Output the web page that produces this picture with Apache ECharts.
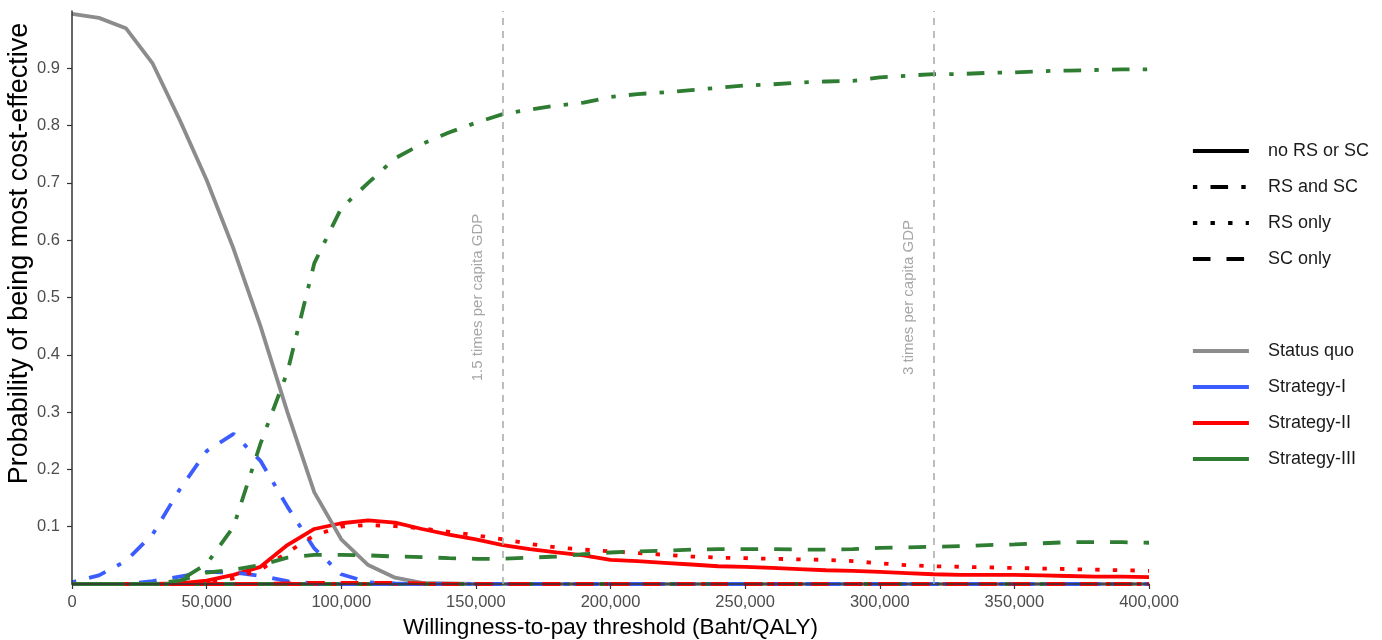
<!DOCTYPE html>
<html>
<head>
<meta charset="utf-8">
<script src="https://cdn.jsdelivr.net/npm/echarts@6/dist/echarts.min.js"></script>
<style>html,body{margin:0;padding:0;background:#fff;}#chart{width:1382px;height:640px;}</style>
</head>
<body>
<div id="chart"></div>
<script>
// ---- data ----
const wtp = [0,10000,20000,30000,40000,50000,60000,70000,80000,90000,100000,110000,120000,130000,140000,150000,160000,170000,180000,190000,200000,210000,220000,230000,240000,250000,260000,270000,280000,290000,300000,310000,320000,330000,340000,350000,360000,370000,380000,390000,400000];
const xTickLabels = ['0','50,000','100,000','150,000','200,000','250,000','300,000','350,000','400,000'];
const yTickValues = [0.1,0.2,0.3,0.4,0.5,0.6,0.7,0.8,0.9];
const gdpLines = [160000, 320000];
const gdpLabels = ['1.5 times per capita GDP', '3 times per capita GDP'];
const strategyNames = ['Status quo','Strategy-I','Strategy-II','Strategy-III'];
const typeNames = ['no RS or SC','RS and SC','RS only','SC only'];

const statusQuo = [0.995,0.988,0.970,0.908,0.810,0.705,0.585,0.450,0.300,0.160,0.078,0.033,0.011,0.002,0.001,0,0,0,0,0,0,0,0,0,0,0,0,0,0,0,0,0,0,0,0,0,0,0,0,0,0];

const s1None  = [0,0,0,0,0,0,0,0,0,0,0,0,0,0,0,0,0,0,0,0,0,0,0,0,0,0,0,0,0,0,0,0,0,0,0,0,0,0,0,0,0];
const s1RsSc  = [0.003,0.015,0.040,0.087,0.165,0.232,0.262,0.215,0.135,0.062,0.017,0.003,0.001,0,0,0,0,0,0,0,0,0,0,0,0,0,0,0,0,0,0,0,0,0,0,0,0,0,0,0,0];
const s1Rs    = [0,0,0,0,0,0,0,0,0,0,0,0,0,0,0,0,0,0,0,0,0,0,0,0,0,0,0,0,0,0,0,0,0,0,0,0,0,0,0,0,0];
const s1Sc    = [0,0,0,0.005,0.013,0.021,0.020,0.014,0.005,0.001,0,0,0,0,0,0,0,0,0,0,0,0,0,0,0,0,0,0,0,0,0,0,0,0,0,0,0,0,0,0,0];

const s2None  = [0,0,0,0,0.001,0.006,0.016,0.030,0.068,0.096,0.106,0.111,0.107,0.096,0.086,0.078,0.068,0.061,0.055,0.050,0.042,0.040,0.037,0.034,0.031,0.030,0.028,0.026,0.024,0.023,0.021,0.019,0.017,0.016,0.016,0.016,0.015,0.014,0.013,0.013,0.012];
const s2RsSc  = [0,0,0,0,0,0,0,0,0,0,0,0,0,0,0,0,0,0,0,0,0,0,0,0,0,0,0,0,0,0,0,0,0,0,0,0,0,0,0,0,0];
const s2Rs    = [0,0,0,0,0,0.003,0.010,0.025,0.055,0.085,0.100,0.103,0.101,0.097,0.091,0.085,0.078,0.070,0.064,0.060,0.057,0.054,0.051,0.048,0.046,0.045,0.044,0.043,0.042,0.040,0.036,0.033,0.031,0.030,0.029,0.028,0.027,0.026,0.025,0.024,0.023];
const s2Sc    = [0,0,0,0,0,0,0,0,0.001,0.002,0.002,0.002,0.002,0.001,0,0,0,0,0,0,0,0,0,0,0,0,0,0,0,0,0,0,0,0,0,0,0,0,0,0,0];

const s3None  = [0,0,0,0,0,0,0,0,0,0,0,0,0,0,0,0,0,0,0,0,0,0,0,0,0,0,0,0,0,0,0,0,0,0,0,0,0,0,0,0,0];
const s3RsSc  = [0,0,0,0,0.006,0.035,0.100,0.245,0.370,0.560,0.656,0.700,0.743,0.768,0.788,0.805,0.820,0.828,0.835,0.840,0.850,0.855,0.858,0.862,0.866,0.870,0.872,0.875,0.877,0.878,0.884,0.887,0.890,0.890,0.892,0.893,0.895,0.896,0.897,0.898,0.898];
const s3Rs    = [0,0,0,0,0,0,0,0,0,0,0,0,0,0,0,0,0,0,0,0,0,0,0,0,0,0,0,0,0,0,0,0,0,0,0,0,0,0,0,0,0];
const s3Sc    = [0,0,0,0,0.006,0.020,0.025,0.033,0.046,0.051,0.051,0.050,0.048,0.047,0.045,0.044,0.044,0.046,0.048,0.052,0.055,0.057,0.058,0.060,0.061,0.061,0.061,0.060,0.060,0.061,0.063,0.064,0.065,0.066,0.068,0.069,0.071,0.073,0.073,0.073,0.072];

// ---- styles ----
const colors = {'Status quo':'#8c8c8c','Strategy-I':'#3b5cff','Strategy-II':'#ff0000','Strategy-III':'#2e7d32'};
const dash = {'no RS or SC':'solid','RS and SC':[4.4,13.2,17.6,13.2],'RS only':[4.4,13.2],'SC only':[17.6,16]};
const LW = 3.8;
const FONT = 'Liberation Sans, Arial, Helvetica, sans-serif';

function pairs(arr){ return wtp.map((x,i)=>[x,arr[i]]); }
function mkSeries(name, type, arr){
  return {name:name, type:'line', data:pairs(arr), symbol:'none', showSymbol:false,
    lineStyle:{color:colors[name], width:LW, type:dash[type]}, itemStyle:{color:colors[name]},
    silent:true, z:2};
}

const series = [
  mkSeries('Strategy-I','no RS or SC',s1None),
  mkSeries('Strategy-II','no RS or SC',s2None),
  mkSeries('Strategy-III','no RS or SC',s3None),
  mkSeries('Status quo','no RS or SC',statusQuo),
  mkSeries('Strategy-I','RS only',s1Rs),
  mkSeries('Strategy-II','RS and SC',s2RsSc),
  mkSeries('Strategy-III','RS only',s3Rs),
  mkSeries('Strategy-I','RS and SC',s1RsSc),
  mkSeries('Strategy-I','SC only',s1Sc),
  mkSeries('Strategy-II','RS only',s2Rs),
  mkSeries('Strategy-II','SC only',s2Sc),
  mkSeries('Strategy-III','RS and SC',s3RsSc),
  mkSeries('Strategy-III','SC only',s3Sc)
];
// legend-only series for linetypes
typeNames.forEach(t=>{
  series.push({name:t, type:'line', data:[], symbol:'none',
    lineStyle:{color:'#000', width:LW, type:dash[t]}, itemStyle:{color:'#000'}});
});
// reference lines
series.push({
  name:'ref', type:'line', data:[], symbol:'none', silent:true,
  markLine:{
    silent:true, symbol:['none','none'], animation:false,
    lineStyle:{color:'#a8a8a8', width:1.5, type:[7,6]},
    label:{show:true, position:'insideMiddleTop', distance:17, color:'#a6a6a6', fontSize:15, fontFamily:FONT,
      formatter:p=>gdpLabels[gdpLines.indexOf(p.value)]},
    data: gdpLines.map(v=>({xAxis:v}))
  }
});

function legendOf(top, names, lineType){
  const ls = {width:LW};
  if (lineType) ls.type = lineType;
  return {
    orient:'vertical', left:1191, top:top, padding:0, itemWidth:56, itemHeight:14, itemGap:18,
    selectedMode:false, data:names,
    lineStyle:ls, itemStyle:{opacity:0},
    textStyle:{fontSize:18, color:'#1a1a1a', fontFamily:FONT, padding:[0,0,0,14]}
  };
}

const option = {
  animation:false,
  backgroundColor:'#fff',
  grid:{left:72, right:233, top:11, bottom:56, containLabel:false, outerBoundsMode:'none'},
  legend:[ legendOf(142, typeNames, null), legendOf(342, strategyNames, 'solid') ],
  xAxis:{
    type:'value', min:0, max:400000, interval:50000, z:3,
    name:'Willingness-to-pay threshold (Baht/QALY)', nameLocation:'middle', nameGap:30,
    nameTextStyle:{fontSize:22.5, color:'#000', fontFamily:FONT},
    axisLine:{show:true, onZero:false, lineStyle:{color:'#333', width:1.5}},
    axisTick:{show:true, length:5, lineStyle:{color:'#333', width:1.2}},
    axisLabel:{fontSize:16.5, color:'#4d4d4d', fontFamily:FONT, margin:10,
      formatter:(v)=>xTickLabels[Math.round(v/50000)]},
    splitLine:{show:false}
  },
  yAxis:{
    type:'value', min:0, max:1, z:3,
    name:'Probability of being most cost-effective', nameLocation:'middle', nameGap:39, nameMoveOverlap:false,
    nameTextStyle:{fontSize:27, color:'#000', fontFamily:FONT, padding:[0,0,0,88]},
    axisLine:{show:true, lineStyle:{color:'#333', width:1.5}},
    axisTick:{show:true, length:5, customValues:yTickValues, lineStyle:{color:'#333', width:1.2}},
    axisLabel:{fontSize:16.5, color:'#4d4d4d', fontFamily:FONT, margin:12, customValues:yTickValues,
      formatter:(v)=>v.toFixed(1)},
    splitLine:{show:false}
  },
  series:series
};

const chart = echarts.init(document.getElementById('chart'), null, {renderer:'canvas'});
chart.setOption(option);
</script>
</body>
</html>
